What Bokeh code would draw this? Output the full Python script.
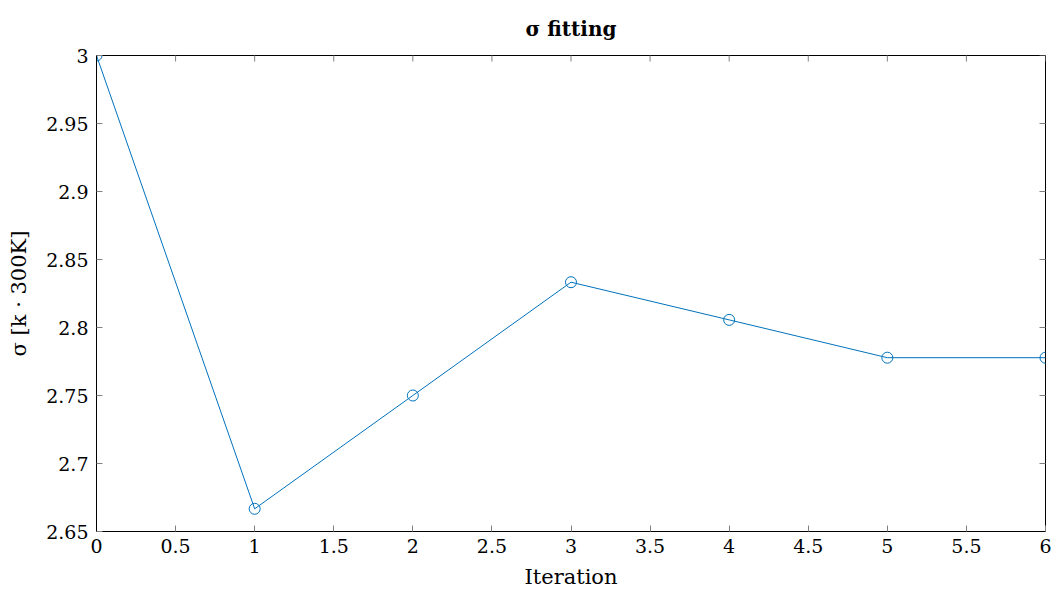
import math
from bokeh.plotting import figure
from bokeh.models import FixedTicker, CustomJSTickFormatter, Range1d
from bokeh.embed import file_html
from bokeh.resources import INLINE

iterations = [0, 1, 2, 3, 4, 5, 6]
sigma = [3.0, 2.6667, 2.75, 2.8333, 2.8056, 2.7778, 2.7778]
x_ticks = [0, 0.5, 1, 1.5, 2, 2.5, 3, 3.5, 4, 4.5, 5, 5.5, 6]
y_ticks = [2.65, 2.7, 2.75, 2.8, 2.85, 2.9, 2.95, 3.0]
x_lo, x_hi = 0, 6
y_lo, y_hi = 2.65, 3.0
title_text = "σ fitting"

FONT = "DejaVu Serif"
BLUE = "#0072BD"
TICK = "#808080"

p = figure(width=1056, height=599, output_backend="svg", toolbar_location=None,
           x_range=Range1d(x_lo, x_hi), y_range=Range1d(y_lo, y_hi),
           min_border_left=96, min_border_right=11, min_border_top=55, min_border_bottom=68,
           x_axis_label="Iteration", y_axis_label="σ [k · 300K]", title=title_text)
p.grid.visible = False
p.outline_line_color = "black"
p.outline_line_width = 1
p.background_fill_color = "white"
p.border_fill_color = "white"

p.title.text_font = FONT
p.title.text_font_size = "20px"
p.title.text_font_style = "bold"
p.title.text_color = "black"
p.title.align = "center"
p.title.standoff = 29

fmt = CustomJSTickFormatter(code="return String(Math.round(tick*100)/100);")

for ax, ticks in ((p.xaxis[0], x_ticks), (p.yaxis[0], y_ticks)):
    ax.ticker = FixedTicker(ticks=ticks)
    ax.formatter = fmt
    ax.major_tick_in = 6
    ax.major_tick_out = 0
    ax.minor_tick_in = 0
    ax.minor_tick_out = 0
    ax.major_tick_line_color = TICK
    ax.axis_line_color = "black"
    ax.major_label_text_font = FONT
    ax.major_label_text_font_size = "19px"
    ax.major_label_text_color = "black"
    ax.axis_label_text_font = FONT
    ax.axis_label_text_font_size = "21px"
    ax.axis_label_text_font_style = "normal"
    ax.axis_label_text_color = "black"

p.xaxis[0].major_label_standoff = 7
p.yaxis[0].major_label_standoff = 8
p.xaxis[0].axis_label_standoff = 9
p.yaxis[0].axis_label_standoff = 12

# inward ticks on the top and right edges (outer half is clipped by the frame)
p.scatter(x_ticks, [y_hi] * len(x_ticks), marker="dash", angle=math.pi / 2, size=12,
          line_color=TICK, line_width=1)
p.scatter([x_hi] * len(y_ticks), y_ticks, marker="dash", size=12,
          line_color=TICK, line_width=1)

p.line(iterations, sigma, line_color=BLUE, line_width=1)
p.scatter(iterations, sigma, marker="circle", size=11, fill_color=None, line_color=BLUE, line_width=1)

open("out.html", "w").write(file_html(p, INLINE))
